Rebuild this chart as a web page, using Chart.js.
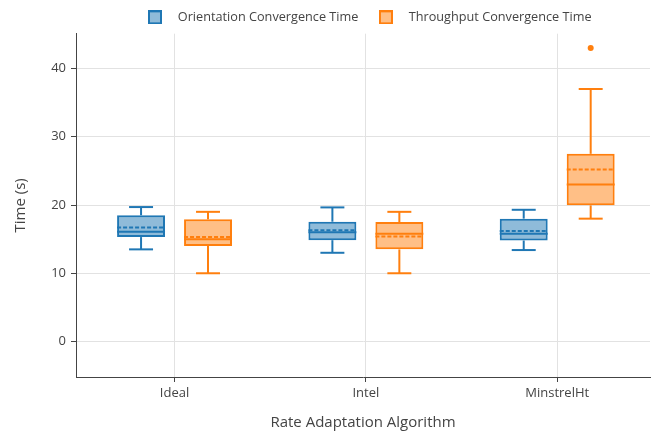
<!DOCTYPE html>
<html>
<head>
<meta charset="utf-8">
<script src="https://cdn.jsdelivr.net/npm/chart.js@4"></script>
<style>
  body { margin: 0; background: #fff; }
  #wrap { position: relative; width: 656px; height: 434px; }
</style>
</head>
<body>
<div id="wrap"><canvas id="chart"></canvas></div>
<script>
const categories = ["Ideal", "Intel", "MinstrelHt"];
const yTicks = [0, 10, 20, 30, 40];

// Orientation Convergence Time
const orientMin = [13.5, 13.0, 13.4];
const orientQ1 = [15.3, 14.85, 14.8];
const orientMedian = [16.1, 16.0, 15.8];
const orientQ3 = [18.5, 17.55, 18.0];
const orientMax = [19.7, 19.65, 19.3];
const orientMean = [16.7, 16.3, 16.2];
const orientOutliers = [[], [], []];

// Throughput Convergence Time
const thruMin = [10.0, 10.0, 18.0];
const thruQ1 = [14.0, 13.5, 19.95];
const thruMedian = [15.0, 15.8, 23.0];
const thruQ3 = [17.9, 17.5, 27.5];
const thruMax = [19.0, 19.0, 37.0];
const thruMean = [15.3, 15.4, 25.2];
const thruOutliers = [[], [], [43]];

const stats = [
  { min: orientMin, q1: orientQ1, med: orientMedian, q3: orientQ3, max: orientMax, mean: orientMean, out: orientOutliers },
  { min: thruMin, q1: thruQ1, med: thruMedian, q3: thruQ3, max: thruMax, mean: thruMean, out: thruOutliers },
];

const BLUE = "#1f77b4";
const ORANGE = "#ff7f0e";

function legendIcon(fill, stroke) {
  const c = document.createElement("canvas");
  c.width = 14;
  c.height = 14;
  const g = c.getContext("2d");
  g.fillStyle = fill;
  g.fillRect(1, 1, 12, 12);
  g.strokeStyle = stroke;
  g.lineWidth = 2;
  g.strokeRect(1, 1, 12, 12);
  return c;
}

const icons = [
  legendIcon("rgba(31,119,180,0.5)", BLUE),
  legendIcon("rgba(255,127,14,0.5)", ORANGE),
];

// whiskers, median, mean and outliers drawn on top of the floating bars
const boxExtras = {
  id: "boxExtras",
  afterLayout(chart) {
    // legend sits a little right of the plot centre
    chart.legend.left += 2;
    chart.legend.right += 2;
  },
  afterDatasetsDraw(chart) {
    const ctx = chart.ctx;
    const ys = chart.scales.y;
    const line = (x1, y1, x2, y2) => {
      ctx.beginPath();
      ctx.moveTo(x1, y1);
      ctx.lineTo(x2, y2);
      ctx.stroke();
    };
    chart.data.datasets.forEach((ds, d) => {
      const s = stats[d];
      chart.getDatasetMeta(d).data.forEach((bar, i) => {
        const cx = bar.x;
        const half = bar.width / 2;
        const py = (v) => ys.getPixelForValue(v);
        ctx.save();
        ctx.strokeStyle = ds.borderColor;
        ctx.lineWidth = 2;
        line(cx, py(s.q3[i]), cx, py(s.max[i]));
        line(cx, py(s.q1[i]), cx, py(s.min[i]));
        line(cx - half / 2, py(s.max[i]), cx + half / 2, py(s.max[i]));
        line(cx - half / 2, py(s.min[i]), cx + half / 2, py(s.min[i]));
        line(cx - half, py(s.med[i]), cx + half, py(s.med[i]));
        ctx.setLineDash([4, 2]);
        line(cx - half, py(s.mean[i]), cx + half, py(s.mean[i]));
        ctx.setLineDash([]);
        ctx.fillStyle = ds.borderColor;
        s.out[i].forEach((v) => {
          ctx.beginPath();
          ctx.arc(cx, py(v), 3, 0, Math.PI * 2);
          ctx.fill();
        });
        ctx.restore();
      });
    });
  },
};

const font = '"Open Sans", sans-serif';

new Chart(document.getElementById("chart"), {
  type: "bar",
  data: {
    datasets: [
      {
        label: "Orientation Convergence Time",
        data: categories.map((c, i) => ({ x: i, y: [orientQ1[i], orientQ3[i]] })),
        backgroundColor: "rgba(31,119,180,0.5)",
        borderColor: BLUE,
        borderWidth: 2,
        borderSkipped: false,
      },
      {
        label: "Throughput Convergence Time",
        data: categories.map((c, i) => ({ x: i, y: [thruQ1[i], thruQ3[i]] })),
        backgroundColor: "rgba(255,127,14,0.5)",
        borderColor: ORANGE,
        borderWidth: 2,
        borderSkipped: false,
      },
    ],
  },
  options: {
    responsive: true,
    maintainAspectRatio: false,
    animation: false,
    categoryPercentage: 0.7,
    barPercentage: 0.716,
    layout: { padding: { top: 0, right: 6, left: 0, bottom: 0 } },
    scales: {
      x: {
        type: "linear",
        min: -0.515,
        max: 2.485,
        offset: false,
        afterFit: (s) => { s.height = 57; },
        afterBuildTicks: (s) => { s.ticks = categories.map((c, i) => ({ value: i })); },
        grid: { offset: false, color: "#e2e2e2", tickColor: "#444", tickLength: 5 },
        border: { color: "#444" },
        ticks: {
          autoSkip: false,
          maxRotation: 0,
          padding: 3,
          color: "#444",
          font: { family: font, size: 13 },
          callback: (v) => categories[Math.round(v)],
        },
        title: {
          display: true,
          text: "Rate Adaptation Algorithm",
          color: "#444",
          font: { family: font, size: 15 },
          padding: { top: 0, bottom: 2 },
        },
      },
      y: {
        min: -5.2,
        max: 45.1,
        afterFit: (s) => { s.width = 76; },
        afterBuildTicks: (s) => { s.ticks = yTicks.map((v) => ({ value: v })); },
        grid: { color: "#e2e2e2", tickColor: "#444", tickLength: 5 },
        border: { color: "#444" },
        ticks: {
          padding: 5,
          color: "#444",
          font: { family: font, size: 13 },
        },
        title: {
          display: true,
          text: "Time (s)",
          color: "#444",
          font: { family: font, size: 15 },
          padding: { top: 12, bottom: 0 },
        },
      },
    },
    plugins: {
      tooltip: { enabled: false },
      legend: {
        position: "top",
        fullSize: false,
        labels: {
          usePointStyle: true,
          pointStyleWidth: 33,
          padding: 11,
          color: "#444",
          font: { family: font, size: 12.7 },
          generateLabels: (chart) =>
            chart.data.datasets.map((ds, i) => ({
              text: ds.label,
              pointStyle: icons[i],
              datasetIndex: i,
              hidden: false,
              lineWidth: 0,
              fontColor: "#444",
            })),
        },
      },
    },
  },
  plugins: [boxExtras],
});
</script>
</body>
</html>
